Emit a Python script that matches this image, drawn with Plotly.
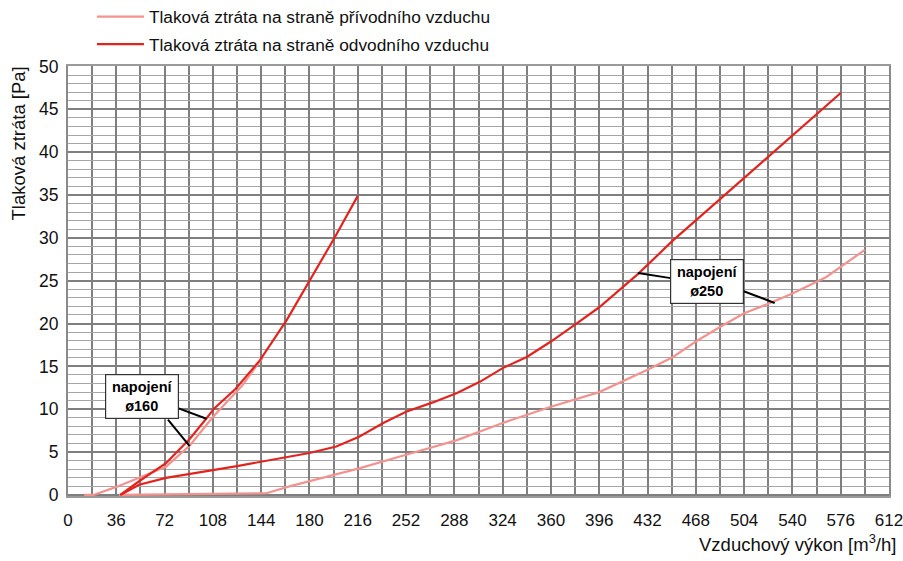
import plotly.graph_objects as go

# ---- data ----
supply160_x = [12, 19, 37, 53, 73, 91, 108, 130, 145]
supply160_y = [0, 0, 1.0, 2.0, 3.3, 5.8, 9.1, 12.8, 16.0]

exhaust160_x = [39, 53, 73, 91, 103, 109, 125, 143, 163, 180, 199, 216]
exhaust160_y = [0, 1.6, 3.7, 6.6, 8.9, 10.1, 12.4, 15.7, 20.4, 25.0, 30.1, 34.9]

exhaust250_x = [39, 53, 73, 91, 108, 127, 145, 180, 200, 217, 235, 252, 272, 290,
                307, 324, 342, 360, 379, 396, 425, 451, 478, 504, 523, 559, 576]
exhaust250_y = [0, 1.2, 2.0, 2.5, 2.9, 3.4, 3.9, 4.9, 5.65, 6.8, 8.4, 9.7, 10.8, 11.9,
                13.2, 14.8, 16.1, 17.9, 20.0, 21.9, 25.8, 29.7, 33.4, 37.0, 39.6, 44.6, 46.9]

supply250_x = [38, 148, 165, 183, 217, 252, 290, 324, 360, 396, 432, 451, 468, 486,
               504, 522, 540, 565, 594]
supply250_y = [0, 0.2, 1.0, 1.7, 3.1, 4.7, 6.4, 8.4, 10.3, 12.0, 14.6, 16.1, 17.9, 19.6,
               21.2, 22.3, 23.5, 25.4, 28.6]

x_ticks = list(range(0, 613, 36))
series_names = ["Tlaková ztráta na straně přívodního vzduchu",
                "Tlaková ztráta na straně odvodního vzduchu"]
label160 = "<b>napojení<br>ø160</b>"
label250 = "<b>napojení<br>ø250</b>"

PINK = "#F2938F"
RED = "#E3241E"
GRID = "#7F7F7F"
MINOR = "#A6A6A6"
TXT = "#111111"
FONT = "Liberation Sans, Arial, sans-serif"

fig = go.Figure()
fig.add_trace(go.Scatter(x=supply160_x, y=supply160_y, mode="lines",
                         line=dict(color=PINK, width=2.2), name=series_names[0],
                         legendgroup="s", showlegend=True))
fig.add_trace(go.Scatter(x=supply250_x, y=supply250_y, mode="lines",
                         line=dict(color=PINK, width=2.2), name=series_names[0],
                         legendgroup="s", showlegend=False))
fig.add_trace(go.Scatter(x=exhaust160_x, y=exhaust160_y, mode="lines",
                         line=dict(color=RED, width=2.2), name=series_names[1],
                         legendgroup="e", showlegend=True))
fig.add_trace(go.Scatter(x=exhaust250_x, y=exhaust250_y, mode="lines",
                         line=dict(color=RED, width=2.2), name=series_names[1],
                         legendgroup="e", showlegend=False))

# callout pointer lines
pointers = [
    (82.5, 10.1, 103.2, 8.9),
    (74.5, 8.8, 90.7, 5.7),
    (449.3, 25.3, 424.9, 25.9),
    (503.2, 23.8, 526.8, 22.4),
]
for x0, y0, x1, y1 in pointers:
    fig.add_shape(type="line", x0=x0, y0=y0, x1=x1, y1=y1, xref="x", yref="y",
                  line=dict(color="black", width=2))

fig.add_annotation(x=55.3, y=11.5, xref="x", yref="y", text=label160, showarrow=False,
                   font=dict(family=FONT, size=14.5, color="black"), bgcolor="white",
                   bordercolor="#333333", borderwidth=1.2, borderpad=4, width=64)
fig.add_annotation(x=476.1, y=24.9, xref="x", yref="y", text=label250, showarrow=False,
                   font=dict(family=FONT, size=14.5, color="black"), bgcolor="white",
                   bordercolor="#333333", borderwidth=1.2, borderpad=4, width=64)

fig.add_annotation(x=1.011, y=-0.109, xref="paper", yref="paper", xanchor="right",
                   yanchor="middle", text="Vzduchový výkon [m<sup>3</sup>/h]",
                   showarrow=False, font=dict(family=FONT, size=18.5, color=TXT))
fig.add_annotation(x=-0.0615, y=0.8186, xref="paper", yref="paper", xanchor="center",
                   yanchor="middle", text="Tlaková ztráta [Pa]", textangle=-90,
                   showarrow=False, font=dict(family=FONT, size=18.5, color=TXT))

fig.update_layout(
    width=903, height=561,
    margin=dict(l=68, r=14, t=66, b=65, autoexpand=False),
    paper_bgcolor="white", plot_bgcolor="white",
    font=dict(family=FONT, size=17, color=TXT),
    showlegend=True,
    legend=dict(x=0.0292, y=1.156, xanchor="left", yanchor="top",
                font=dict(family=FONT, size=17.3, color=TXT),
                tracegroupgap=2, traceorder="grouped", bgcolor="rgba(0,0,0,0)",
                itemwidth=47),
)
fig.update_xaxes(range=[0, 612], tickvals=x_ticks, showgrid=True, gridcolor=GRID,
                 gridwidth=2, zeroline=False, showline=True, mirror=True,
                 linecolor="#9A9A9A", linewidth=2, ticks="", ticklabelstandoff=8,
                 automargin=False, ticklabeloverflow="allow",
                 tickfont=dict(family=FONT, size=17, color=TXT),
                 minor=dict(dtick=18, showgrid=True, gridcolor=GRID, gridwidth=2))
fig.update_yaxes(range=[-0.12, 50.05], tick0=0, dtick=5, showgrid=True, gridcolor=GRID,
                 gridwidth=2, zeroline=False, showline=True, mirror=True,
                 linecolor="#8A8A8A", linewidth=2, ticks="", ticklabelstandoff=4,
                 automargin=False, ticklabeloverflow="allow",
                 tickfont=dict(family=FONT, size=17.5, color=TXT),
                 minor=dict(dtick=1, tick0=0, showgrid=True, gridcolor=MINOR, gridwidth=1))

fig.write_html("out.html",
               config={"displayModeBar": False},
               post_script="document.body.style.margin='0px';"
                           "document.body.style.overflow='hidden';")
